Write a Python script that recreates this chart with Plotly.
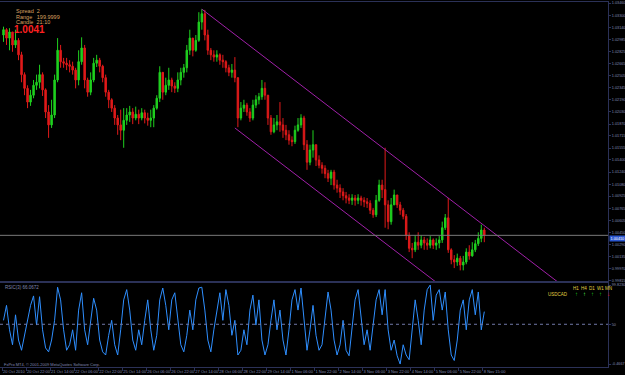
import plotly.graph_objects as go

# ---------------- data (2-hour bars, USDCAD-like quote) ----------------
first_open = 1.0304
bar_close = [
    1.0311, 1.0300, 1.0308, 1.0291, 1.0297, 1.0278, 1.0252, 1.0234, 1.0216, 1.0225,
    1.0238, 1.0242, 1.0252, 1.0232, 1.0203, 1.0186, 1.0199, 1.0245, 1.0284, 1.0269,
    1.0267, 1.0265, 1.0263, 1.0258, 1.0245, 1.0269, 1.0287, 1.0245, 1.0229, 1.0245,
    1.0267, 1.0271, 1.0263, 1.0248, 1.0229, 1.0219, 1.0208, 1.0195, 1.0186, 1.0179,
    1.0192, 1.0199, 1.0203, 1.0195, 1.0200, 1.0195, 1.0202, 1.0195, 1.0192, 1.0195,
    1.0208, 1.0221, 1.0255, 1.0229, 1.0238, 1.0245, 1.0237, 1.0234, 1.0245, 1.0255,
    1.0261, 1.0284, 1.0300, 1.0284, 1.0297, 1.0321, 1.0332, 1.0304, 1.0284, 1.0278,
    1.0275, 1.0278, 1.0271, 1.0269, 1.0261, 1.0255, 1.0258, 1.0248, 1.0195, 1.0208,
    1.0212, 1.0203, 1.0195, 1.0212, 1.0219, 1.0223, 1.0234, 1.0225, 1.0195, 1.0177,
    1.0186, 1.0190, 1.0186, 1.0179, 1.0173, 1.0166, 1.0164, 1.0179, 1.0186, 1.0195,
    1.0160, 1.0137, 1.0153, 1.0160, 1.0140, 1.0133, 1.0129, 1.0122, 1.0116, 1.0124,
    1.0107, 1.0103, 1.0098, 1.0093, 1.0090, 1.0087, 1.0090, 1.0087, 1.0090, 1.0087,
    1.0085, 1.0083, 1.0074, 1.0068, 1.0087, 1.0107, 1.0101, 1.0081, 1.0059, 1.0081,
    1.0094, 1.0081, 1.0074, 1.0066, 1.0041, 1.0024, 1.0022, 1.0032, 1.0028, 1.0035,
    1.0031, 1.0028, 1.0035, 1.0028, 1.0031, 1.0035, 1.0051, 1.0064, 1.0022, 1.0009,
    1.0006, 1.0011, 1.0002, 1.0006, 1.0019, 1.0014, 1.0022, 1.0030, 1.0037, 1.0048,
    1.0041,
]
bar_high = [
    1.0315, 1.0313, 1.0313, 1.0307, 1.0311, 1.0300, 1.0282, 1.0255, 1.0238, 1.0232,
    1.0245, 1.0252, 1.0265, 1.0255, 1.0234, 1.0212, 1.0219, 1.0252, 1.0300, 1.0291,
    1.0274, 1.0274, 1.0271, 1.0269, 1.0261, 1.0284, 1.0301, 1.0291, 1.0248, 1.0255,
    1.0274, 1.0278, 1.0274, 1.0265, 1.0252, 1.0232, 1.0221, 1.0212, 1.0199, 1.0206,
    1.0208, 1.0208, 1.0211, 1.0208, 1.0210, 1.0206, 1.0208, 1.0206, 1.0202, 1.0206,
    1.0212, 1.0225, 1.0263, 1.0252, 1.0248, 1.0261, 1.0248, 1.0242, 1.0255, 1.0261,
    1.0266, 1.0291, 1.0311, 1.0300, 1.0304, 1.0334, 1.0338, 1.0337, 1.0311, 1.0287,
    1.0284, 1.0284, 1.0280, 1.0278, 1.0271, 1.0265, 1.0266, 1.0275, 1.0248, 1.0216,
    1.0219, 1.0215, 1.0208, 1.0219, 1.0225, 1.0228, 1.0245, 1.0242, 1.0225, 1.0199,
    1.0195, 1.0199, 1.0216, 1.0195, 1.0186, 1.0179, 1.0171, 1.0185, 1.0195, 1.0200,
    1.0198, 1.0166, 1.0160, 1.0179, 1.0160, 1.0146, 1.0137, 1.0133, 1.0127, 1.0127,
    1.0127, 1.0114, 1.0108, 1.0103, 1.0098, 1.0095, 1.0095, 1.0094, 1.0095, 1.0093,
    1.0091, 1.0090, 1.0087, 1.0077, 1.0094, 1.0114, 1.0114, 1.0156, 1.0087, 1.0090,
    1.0101, 1.0094, 1.0085, 1.0077, 1.0069, 1.0045, 1.0031, 1.0041, 1.0045, 1.0041,
    1.0039, 1.0037, 1.0040, 1.0037, 1.0037, 1.0040, 1.0059, 1.0069, 1.0090, 1.0024,
    1.0015, 1.0017, 1.0014, 1.0014, 1.0024, 1.0028, 1.0032, 1.0035, 1.0045, 1.0055,
    1.0051,
]
bar_low = [
    1.0295, 1.0291, 1.0284, 1.0282, 1.0287, 1.0271, 1.0242, 1.0225, 1.0208, 1.0211,
    1.0221, 1.0232, 1.0234, 1.0224, 1.0195, 1.0169, 1.0182, 1.0195, 1.0242, 1.0261,
    1.0261, 1.0258, 1.0255, 1.0252, 1.0234, 1.0238, 1.0265, 1.0234, 1.0223, 1.0225,
    1.0242, 1.0262, 1.0255, 1.0242, 1.0223, 1.0208, 1.0203, 1.0186, 1.0173, 1.0166,
    1.0156, 1.0186, 1.0190, 1.0187, 1.0192, 1.0187, 1.0192, 1.0188, 1.0185, 1.0183,
    1.0183, 1.0206, 1.0216, 1.0219, 1.0225, 1.0232, 1.0229, 1.0228, 1.0229, 1.0238,
    1.0248, 1.0255, 1.0278, 1.0276, 1.0282, 1.0295, 1.0311, 1.0297, 1.0278, 1.0271,
    1.0269, 1.0269, 1.0265, 1.0261, 1.0255, 1.0250, 1.0248, 1.0242, 1.0183, 1.0192,
    1.0203, 1.0198, 1.0190, 1.0192, 1.0208, 1.0213, 1.0219, 1.0219, 1.0186, 1.0173,
    1.0175, 1.0179, 1.0177, 1.0169, 1.0166, 1.0160, 1.0158, 1.0161, 1.0177, 1.0182,
    1.0153, 1.0127, 1.0133, 1.0143, 1.0132, 1.0129, 1.0122, 1.0116, 1.0111, 1.0107,
    1.0101, 1.0097, 1.0090, 1.0087, 1.0083, 1.0082, 1.0081, 1.0080, 1.0082, 1.0080,
    1.0078, 1.0077, 1.0069, 1.0064, 1.0065, 1.0085, 1.0090, 1.0051, 1.0049, 1.0055,
    1.0081, 1.0077, 1.0068, 1.0062, 1.0035, 1.0019, 1.0011, 1.0019, 1.0022, 1.0024,
    1.0022, 1.0022, 1.0024, 1.0023, 1.0022, 1.0024, 1.0031, 1.0048, 1.0018, 1.0003,
    0.9998, 1.0001, 0.9995, 0.9995, 1.0003, 1.0009, 1.0013, 1.0019, 1.0027, 1.0032,
    1.0032,
]
bar_open = [first_open] + bar_close[:-1]

osc_values = [
    55, 74, 43, 24, 62, 30, 17,
    36, 55, 74, 86, 49, 85, 43, 20,
    15, 30, 55,
    97, 81, 43, 17, 24, 43, 17,
    68, 90, 43, 24, 55, 83, 68, 30, 15, 11, 36, 55, 24, 11,
    43, 81, 94, 68, 30,
    17, 43, 24, 55, 81, 43, 17,
    36, 81, 96, 74, 43,
    81, 90, 55, 24, 15,
    36, 68, 43, 81, 96, 97,
    68, 30, 15, 43, 68,
    90, 55, 94, 74, 36,
    55, 11, 17, 43, 24,
    68, 87, 49, 81, 30,
    11, 24, 55, 81, 43,
    68, 30, 11, 43, 81,
    94, 68, 96, 55, 17,
    43, 74, 36, 17, 24,
    55, 91, 68, 30, 11,
    24, 55, 17, 10, 43,
    81, 94, 55, 24, 43,
    17, 49, 81, 94, 62,
    94, 43, 17, 30, 10,
    -0.4667, 24, 11, 5, 43,
    81, 55, 24, 68, 94,
    99.823, 55, 87, 94, 68,
    91, 43, 11, 4, 30,
    68, 81, 43, 81, 94,
    62, 91, 43, 66.0672,
]
osc_level = 50
osc_name = "RSIC(3) 66.0672"

time_labels = ["20 Oct 2010", "20 Oct 22:00", "21 Oct 14:00", "22 Oct 06:00", "22 Oct 22:00",
               "25 Oct 14:00", "26 Oct 06:00", "26 Oct 22:00", "27 Oct 14:00", "28 Oct 06:00",
               "28 Oct 22:00", "29 Oct 14:00", "1 Nov 06:00", "1 Nov 22:00", "2 Nov 14:00",
               "3 Nov 06:00", "3 Nov 22:00", "4 Nov 14:00", "5 Nov 06:00", "5 Nov 22:00",
               "8 Nov 15:00"]
bars_per_label = 8

price_ticks = [1.03460, 1.03300, 1.03140, 1.02985, 1.02825, 1.02665, 1.02505, 1.02345,
               1.02190, 1.02030, 1.01870, 1.01715, 1.01555, 1.01400, 1.01240, 1.01080,
               1.00925, 1.00765, 1.00605, 1.00450, 1.00290, 1.00135, 0.99970, 0.99815]
current_price = 1.0041

# channel anchors (bar index, price)
chan_upper = [(66, 1.0338), (148, 1.0090)]
chan_lower_start = (77, 1.0182)

info_lines = ["Spread  2", "Range   199.9999", "Candle  21:10"]
mtf_periods = ["H1", "H4", "D1", "W1", "MN"]
mtf_symbol = "USDCAD"
mtf_arrows = ["↑", "↑", "↑", "↑", "↓"]
mtf_colors = ["#1ec81e", "#5aff5a", "#1ec81e", "#1ec81e", "#e01010"]
copyright_text = "FxPro MT4, © 2001-2009 MetaQuotes Software Corp."

# ---------------- figure ----------------
W, H = 625, 375
n = len(bar_close)
xi = list(range(n))
x_rng = [-1.1667, 201.1667]
frame = "#2b3157"
txt = "#8088b0"
FONT = "Liberation Sans"

fig = go.Figure()
fig.add_trace(go.Candlestick(
    x=xi, open=bar_open, high=bar_high, low=bar_low, close=bar_close,
    increasing=dict(line=dict(color="#1fd01f", width=1), fillcolor="#1fd01f"),
    decreasing=dict(line=dict(color="#e01a1a", width=1), fillcolor="#e01a1a"),
    whiskerwidth=0, xaxis="x", yaxis="y", showlegend=False, hoverinfo="skip"))

# channel lines (rays to the right)
slope = (chan_upper[1][1] - chan_upper[0][1]) / (chan_upper[1][0] - chan_upper[0][0])
x_end = 200
up_x = [chan_upper[0][0], x_end]
up_y = [chan_upper[0][1], chan_upper[0][1] + slope * (x_end - chan_upper[0][0])]
lo_x = [chan_lower_start[0], x_end]
lo_y = [chan_lower_start[1], chan_lower_start[1] + slope * (x_end - chan_lower_start[0])]
for cx, cy in [(up_x, up_y), (lo_x, lo_y)]:
    fig.add_trace(go.Scatter(x=cx, y=cy, mode="lines", line=dict(color="#a020a8", width=1),
                             xaxis="x", yaxis="y", showlegend=False, hoverinfo="skip"))

# current price line
fig.add_trace(go.Scatter(x=x_rng, y=[current_price, current_price], mode="lines",
                         line=dict(color="#7a7a7a", width=1), xaxis="x", yaxis="y",
                         showlegend=False, hoverinfo="skip"))

# oscillator
osc_max = max(osc_values)
osc_min = min(osc_values)
fig.add_trace(go.Scatter(x=xi, y=osc_values, mode="lines", line=dict(color="#2f8fff", width=1),
                         xaxis="x2", yaxis="y2", showlegend=False, hoverinfo="skip"))
fig.add_trace(go.Scatter(x=x_rng, y=[osc_level, osc_level], mode="lines",
                         line=dict(color="#7078a8", width=1, dash="dot"), xaxis="x2", yaxis="y2",
                         showlegend=False, hoverinfo="skip"))

xr = 608 / W
main_dom = [(H - 281) / H, (H - 2) / H]
osc_dom = [(H - 367) / H, (H - 283) / H]

p_lo = 1.0350 - 0.0001313 * 281
p_hi = 1.0350 - 0.0001313 * 2
o_pad = (osc_max - osc_min) * 0.03

tick_pos = [k * bars_per_label - 0.5 for k in range(len(time_labels))]

fig.update_layout(
    width=W, height=H, margin=dict(l=0, r=0, t=0, b=0, autoexpand=False),
    paper_bgcolor="black", plot_bgcolor="black",
    font=dict(family=FONT, size=5, color=txt),
    xaxis=dict(domain=[0, xr], range=x_rng, showticklabels=False, showgrid=False, zeroline=False,
               showline=True, linecolor=frame, linewidth=1, mirror=True, ticks="",
               rangeslider=dict(visible=False), anchor="y", automargin=False),
    yaxis=dict(domain=main_dom, range=[p_lo, p_hi], side="right", showgrid=False, zeroline=False,
               showline=True, linecolor=frame, linewidth=1, mirror=True,
               tickvals=price_ticks, ticktext=[f"{v:.5f}" for v in price_ticks],
               ticks="outside", ticklen=2, tickcolor=frame, tickfont=dict(size=3.8, color=txt),
               anchor="x", automargin=False),
    xaxis2=dict(domain=[0, xr], range=x_rng, showgrid=False, zeroline=False,
                showline=True, linecolor=frame, linewidth=1, mirror=True,
                tickvals=tick_pos, ticktext=time_labels, ticks="outside", ticklen=3,
                tickcolor=frame, ticklabelposition="outside right", tickangle=0,
                tickfont=dict(size=4, color=txt), anchor="y2", automargin=False),
    yaxis2=dict(domain=osc_dom, range=[osc_min - o_pad * 1.25, osc_max + o_pad * 0.85],
                side="right", showgrid=False, zeroline=False,
                showline=True, linecolor=frame, linewidth=1, mirror=True,
                tickvals=[osc_max, osc_level, osc_min],
                ticktext=[f"{osc_max:.4f}", f"{osc_level}", f"{osc_min:.4f}"],
                ticks="outside", ticklen=2, tickcolor=frame, tickfont=dict(size=3.8, color=txt),
                anchor="x2", automargin=False),
)

ann = []
for k, line in enumerate(info_lines):
    ann.append(dict(xref="paper", yref="paper", x=14 / W, y=(H - 11 - 5.5 * k) / H, text=line,
                    showarrow=False, xanchor="left", yanchor="middle",
                    font=dict(family=FONT, size=5.5, color="#d8a060")))
ann.append(dict(xref="paper", yref="paper", x=12 / W, y=(H - 30) / H, text=f"<b>{current_price:.4f}</b>",
                showarrow=False, xanchor="left", yanchor="middle",
                font=dict(family=FONT, size=10, color="#ff2020")))
ann.append(dict(xref="paper", yref="y", x=xr + 1 / W, y=current_price, text=f"{current_price:.5f}",
                showarrow=False, xanchor="left", yanchor="top", bgcolor="#2a56d0",
                font=dict(family=FONT, size=3.8, color="white"), borderpad=0.5))
ann.append(dict(xref="paper", yref="paper", x=3 / W, y=(H - 287) / H, text=osc_name,
                showarrow=False, xanchor="left", yanchor="middle",
                font=dict(family=FONT, size=4.5, color=txt)))
ann.append(dict(xref="paper", yref="paper", x=2 / W, y=(H - 364) / H, text=copyright_text,
                showarrow=False, xanchor="left", yanchor="middle",
                font=dict(family=FONT, size=4, color=txt)))
for k, p in enumerate(mtf_periods):
    ann.append(dict(xref="paper", yref="paper", x=(576 + 8 * k) / W, y=(H - 288) / H, text=p,
                    showarrow=False, xanchor="center", yanchor="middle",
                    font=dict(family=FONT, size=4.5, color="#e0d040")))
    ann.append(dict(xref="paper", yref="paper", x=(576 + 8 * k) / W, y=(H - 294) / H,
                    text=mtf_arrows[k], showarrow=False, xanchor="center", yanchor="middle",
                    font=dict(family=FONT, size=6, color=mtf_colors[k])))
ann.append(dict(xref="paper", yref="paper", x=570 / W, y=(H - 294) / H, text=mtf_symbol,
                showarrow=False, xanchor="right", yanchor="middle",
                font=dict(family=FONT, size=4.5, color="#e0d040")))
fig.update_layout(annotations=ann)

fig.write_html("out.html")
